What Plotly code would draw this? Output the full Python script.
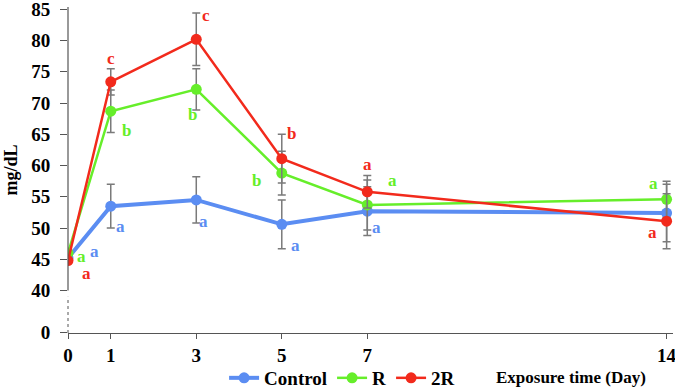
import plotly.graph_objects as go

days = [0, 1, 3, 5, 7, 14]
x_tick_labels = ["0", "1", "3", "5", "7", "14"]

control = [45.2, 53.5, 54.5, 50.6, 52.7, 52.4]
control_err = [0, 3.5, 3.7, 3.9, 3.9, 4.6]
r_vals = [46.0, 68.7, 72.2, 58.8, 53.7, 54.6]
r_err = [0, 3.4, 3.3, 3.5, 4.0, 2.9]
r2_vals = [44.8, 73.4, 80.2, 61.1, 55.8, 51.1]
r2_err = [0, 2.1, 4.2, 3.9, 2.6, 4.4]

control_letters = ["a", "a", "a", "a", "a", ""]
r_letters = ["a", "b", "b", "b", "a", "a"]
r2_letters = ["a", "c", "c", "b", "a", "a"]

y_tick_vals = [33.3, 40, 45, 50, 55, 60, 65, 70, 75, 80, 85]
y_tick_text = ["0", "40", "45", "50", "55", "60", "65", "70", "75", "80", "85"]

BLUE = "#5B8DF2"
GREEN = "#66EE2A"
RED = "#F22A1C"
GRAY = "#7a7a7a"
AXIS = "#555555"
FONT = "Liberation Serif, Times New Roman, serif"

# pixel offsets for the significance letters (dx, dy up)
control_off = [(26, 7), (10, -20), (7.5, -22), (13.5, -21), (9, -16), (0, 0)]
r_off = [(13.5, -3), (15.5, -19), (-4, -25), (-25, -7), (25, 24), (-13.5, 16)]
r2_off = [(18.5, -13), (0.5, 23.5), (10, 24), (9.5, 25), (0, 27), (-14.5, -11.5)]

fig = go.Figure()

series = [
    ("Control", control, control_err, BLUE, 4, 11, control_letters, control_off),
    ("R", r_vals, r_err, GREEN, 2.5, 11, r_letters, r_off),
    ("2R", r2_vals, r2_err, RED, 2.5, 11, r2_letters, r2_off),
]

for name, vals, err, color, lw, ms, letters, offs in series:
    fig.add_trace(go.Scatter(
        x=days, y=vals, name=name, mode="lines+markers",
        line=dict(color=color, width=lw),
        marker=dict(color=color, size=ms),
        error_y=dict(type="data", array=err, visible=True, color=GRAY,
                     thickness=1.5, width=4),
    ))
    for d, v, t, (dx, dy) in zip(days, vals, letters, offs):
        if not t:
            continue
        fig.add_annotation(
            x=d, y=v, xref="x", yref="y", text=t, showarrow=False,
            xshift=dx, yshift=dy,
            font=dict(family=FONT, size=17, color=color, weight="bold"),
        )

# y-axis line: solid from 40 upward, dashed break below 40
fig.add_shape(type="line", xref="paper", yref="y", x0=0, x1=0, y0=40, y1=85.37,
              line=dict(color=AXIS, width=1.2))
fig.add_shape(type="line", xref="paper", yref="y", x0=0, x1=0, y0=33.21, y1=39.0,
              line=dict(color=AXIS, width=1, dash="3px,3px"))

fig.add_annotation(
    xref="paper", yref="paper", x=-0.095, y=0.5, text="mg/dL", textangle=-90,
    showarrow=False, xanchor="center", yanchor="middle",
    font=dict(family=FONT, size=18, color="black", weight="bold"),
)
fig.add_annotation(
    xref="paper", yref="paper", x=0.958, y=-0.138, text="Exposure time (Day)",
    showarrow=False, xanchor="right", yanchor="middle",
    font=dict(family=FONT, size=17, color="black", weight="bold"),
)

fig.update_layout(
    width=675, height=388,
    margin=dict(l=68, r=2, t=7, b=55, autoexpand=False),
    font=dict(family=FONT, color="black"),
    paper_bgcolor="white", plot_bgcolor="white",
    showlegend=True,
    legend=dict(orientation="h", x=0.258, y=-0.138, xanchor="left", yanchor="middle",
                font=dict(family=FONT, size=19, color="black", weight="bold"),
                bgcolor="rgba(0,0,0,0)", tracegroupgap=0),
    xaxis=dict(
        range=[0, 14.15], tickmode="array", tickvals=days, ticktext=x_tick_labels,
        showgrid=False, zeroline=False, showline=True, linecolor=AXIS, linewidth=1.2,
        ticks="outside", ticklen=5, tickcolor=AXIS, ticklabeloverflow="allow",
        tickfont=dict(family=FONT, size=19, color="black", weight="bold"),
    ),
    yaxis=dict(
        range=[33.21, 85.37], tickmode="array", tickvals=y_tick_vals, ticktext=y_tick_text,
        showgrid=False, zeroline=False, showline=False, ticklabeloverflow="allow",
        ticks="outside", ticklen=7, tickcolor=AXIS, ticklabelstandoff=6,
        tickfont=dict(family=FONT, size=19, color="black", weight="bold"),
    ),
)

fig.write_html("out.html")
